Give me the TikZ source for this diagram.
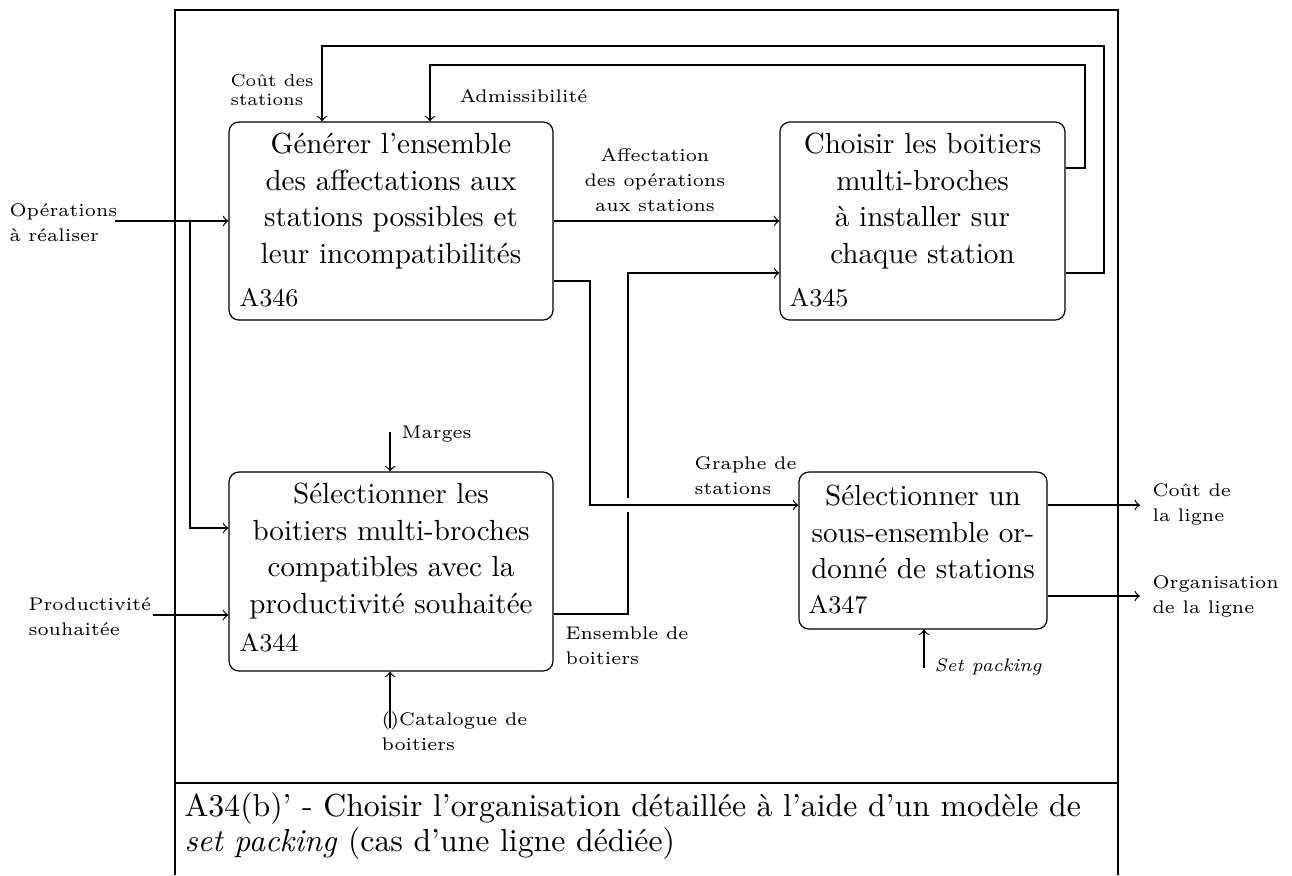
\documentclass[tikz,border=0pt]{standalone}
\begin{document}
\begin{tikzpicture}[x=0.3333pt,y=-0.3333pt,
  box/.style={draw, rounded corners=3.3pt, inner sep=0pt},
  boxtext/.style={align=center, inner sep=0pt, font=\fontsize{9.7}{12.17}\selectfont},
  idlbl/.style={anchor=west, inner sep=0pt, font=\fontsize{8.5}{10}\selectfont},
  lbl/.style={anchor=west, align=left, inner sep=0pt, font=\fontsize{6.1}{8.3}\selectfont},
  lblc/.style={align=center, inner sep=0pt, font=\fontsize{6.1}{8.3}\selectfont},
  conn/.style={->}]
\useasboundingbox (0,0) rectangle (1292,875);

% frame and caption
\draw (175,10) rectangle (1118,783);
\draw (175,783) -- (175,875) (1118,783) -- (1118,875);
\node[anchor=west, align=left, inner sep=0pt, font=\fontsize{10.6}{11.7}\selectfont] (cap) at (184,826)
  {A34(b)' - Choisir l'organisation détaillée à l'aide d'un modèle de\\\textit{set packing} (cas d'une ligne dédiée)};

% boxes
\node[box, minimum width=108pt, minimum height=66pt] (A346) at (391,221) {};
\node[box, minimum width=95pt, minimum height=66pt] (A345) at (922.5,221) {};
\node[box, minimum width=108pt, minimum height=66.3pt] (A344) at (391,571.5) {};
\node[box, minimum width=82.7pt, minimum height=52.3pt] (A347) at (923,550.5) {};

\node[boxtext] (t346) at (391,201) {Générer l'ensemble\\des affectations aux\\stations possibles et\\leur incompatibilités};
\node[boxtext] (t345) at (922.5,201) {Choisir les boitiers\\multi-broches\\à installer sur\\chaque station};
\node[boxtext] (t344) at (391,551) {Sélectionner les\\boitiers multi-broches\\compatibles avec la\\productivité souhaitée};
\node[boxtext] (t347) at (923,532) {Sélectionner un\\sous-ensemble or-\\donné de stations};

\node[idlbl] (i346) at (239,298) {A346};
\node[idlbl] (i345) at (789,298) {A345};
\node[idlbl] (i344) at (239,643) {A344};
\node[idlbl] (i347) at (808,605) {A347};

% labels
\node[lbl, font=\fontsize{5.8}{6.5}\selectfont] (lcout) at (230,90) {Coût des\\stations};
\node[lbl] (ladm) at (459,96) {Admissibilité};
\node[lblc] (laff) at (655,180) {Affectation\\des opérations\\aux stations};
\node[lbl] (lop) at (9,223) {Opérations\\à réaliser};
\node[lbl] (lprod) at (28,617) {Productivité\\souhaitée};
\node[lbl] (lmarg) at (401,434) {Marges};
\node[lbl] (lcat) at (381,731) {()Catalogue de\\boitiers};
\node[lbl] (lens) at (565,646) {Ensemble de\\boitiers};
\node[lbl] (lgra) at (694,476) {Graphe de\\stations};
\node[lbl] (lcl) at (1152,504) {Coût de\\la ligne};
\node[lbl] (lorg) at (1152,596) {Organisation\\de la ligne};
\node[lbl] (lset) at (934,667) {\textit{Set packing}};

% free ends
\coordinate (opin) at (115,221);
\coordinate (br) at (190,221);
\coordinate (prin) at (153,615);
\coordinate (mg) at (390,432);
\coordinate (cat) at (390,728);
\coordinate (sp) at (924,668);
\coordinate (outc) at (1140,505);
\coordinate (outo) at (1140,596);

% connectors
\draw[conn] (opin) -- (A346.west);
\draw[conn] (br) |- (A344.west |- 0,528);
\draw[conn] (prin) -- (A344.west |- prin);
\draw[conn] (mg) -- (mg |- A344.north);
\draw[conn] (cat) -- (cat |- A344.south);
\draw[conn] (A346.east) -- (A345.west);
\draw[conn] (A345.east |- 0,273) -- (1104,273) -- (1104,46) -- (322,46) -- (A346.north -| 322,0);
\draw[conn] (A345.east |- 0,168) -- (1085,168) -- (1085,65) -- (430,65) -- (A346.north -| 430,0);
\draw[conn] (A346.east |- 0,281) -- (590,281) -- (590,505) -- (A347.west |- 0,505);
\draw (A344.east |- 0,614) -- (628,614) -- (628,512);
\draw[conn] (628,498) -- (628,273) -- (A345.west |- 0,273);
\draw[conn] (A347.east |- outc) -- (outc);
\draw[conn] (A347.east |- outo) -- (outo);
\draw[conn] (sp) -- (sp |- A347.south);
\end{tikzpicture}
\end{document}
